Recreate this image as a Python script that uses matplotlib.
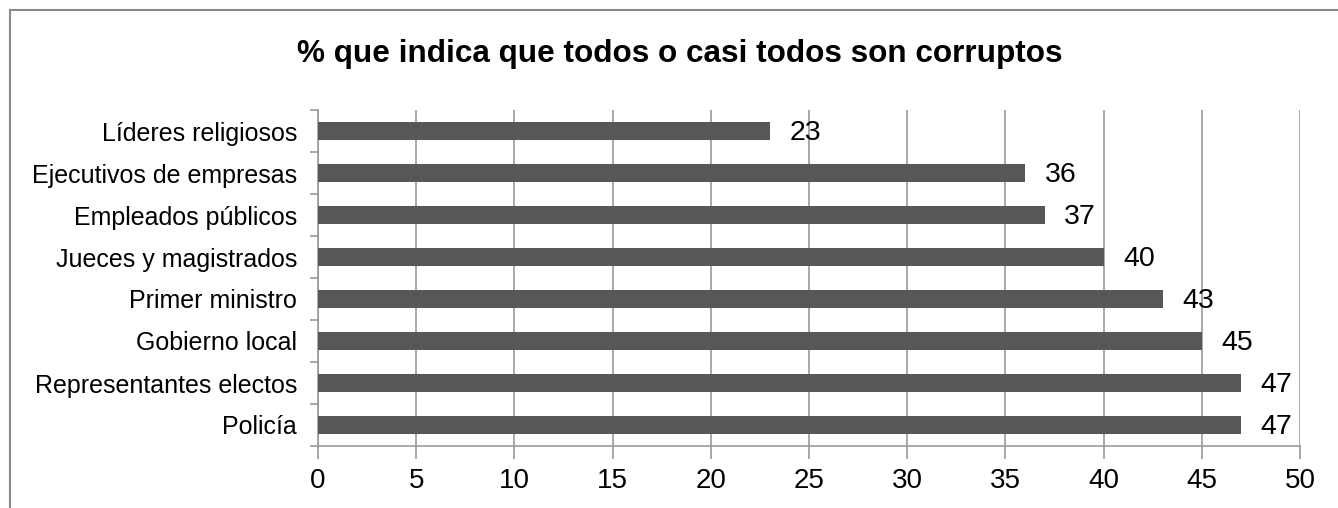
import matplotlib.pyplot as plt
from matplotlib.lines import Line2D
from matplotlib.ticker import FixedLocator

plt.rcParams["font.family"] = ["Liberation Sans", "DejaVu Sans"]

TITLE = "% que indica que todos o casi todos son corruptos"
CATEGORIES = [
    "Líderes religiosos",
    "Ejecutivos de empresas",
    "Empleados públicos",
    "Jueces y magistrados",
    "Primer ministro",
    "Gobierno local",
    "Representantes electos",
    "Policía",
]
VALUES = [23, 36, 37, 40, 43, 45, 47, 47]
X_TICKS = [0, 5, 10, 15, 20, 25, 30, 35, 40, 45, 50]

BAR_COLOR = "#555759"
GRID_COLOR = "#999999"


def main() -> None:
    fig = plt.figure(figsize=(13.38, 5.08), dpi=100)
    ax = fig.add_axes([318 / 1338, 1 - 446 / 508, 982 / 1338, 336 / 508])

    n = len(CATEGORIES)
    ypos = list(range(n))
    ax.barh(ypos, VALUES, height=0.42, color=BAR_COLOR, zorder=3)

    for y, v in zip(ypos, VALUES):
        ax.text(v + 1.0, y + 0.04, f"{v}", ha="left", va="center", fontsize=20.5, zorder=4)

    ax.set_ylim(n - 0.5, -0.5)
    ax.set_xlim(0, 50)
    ax.set_yticks(ypos)
    ax.set_yticklabels(CATEGORIES, fontsize=18)
    ax.yaxis.set_minor_locator(FixedLocator([i - 0.5 for i in range(n + 1)]))
    ax.tick_params(axis="y", which="major", length=0, pad=15)
    ax.tick_params(axis="y", which="minor", length=6, color=GRID_COLOR, width=1.2)

    ax.set_xticks(X_TICKS)
    ax.tick_params(axis="x", which="major", length=9, color=GRID_COLOR, width=1.2,
                   labelsize=20, pad=7)

    ax.grid(axis="x", color=GRID_COLOR, linewidth=1.2, zorder=0)
    for side in ("top", "right"):
        ax.spines[side].set_visible(False)
    for side in ("left", "bottom"):
        ax.spines[side].set_color(GRID_COLOR)
        ax.spines[side].set_linewidth(1.2)

    fig.text(680 / 1338, 1 - 54 / 508, TITLE, ha="center", va="center",
             fontsize=22.7, fontweight="bold")

    # outer frame (top and left edges visible)
    fig.add_artist(Line2D([10 / 1338, 1.0], [1 - 10 / 508, 1 - 10 / 508],
                          transform=fig.transFigure, color="#8a8a8a", linewidth=1.5))
    fig.add_artist(Line2D([10 / 1338, 10 / 1338], [1 - 10 / 508, 0.0],
                          transform=fig.transFigure, color="#8a8a8a", linewidth=1.5))

    fig.savefig("out.png", dpi=100)
    plt.close(fig)


if __name__ == "__main__":
    main()
